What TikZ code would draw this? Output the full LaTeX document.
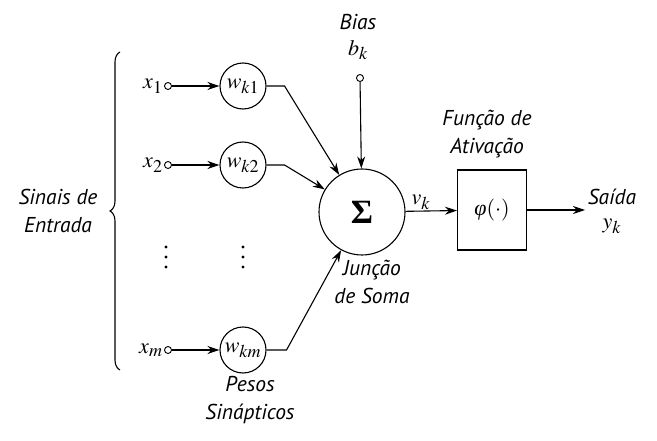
\documentclass[tikz,border=0pt]{standalone}
\usepackage{amsmath}
\usepackage{mathptmx}
\usepackage[no-math]{fontspec}
\setsansfont{PT Sans}
\newfontfamily\gregofonte{Liberation Serif}
\DeclareMathSizes{22}{22}{18}{14}
\usetikzlibrary{arrows.meta,decorations.pathreplacing}

\begin{document}
\begin{tikzpicture}[x=1pt,y=-1pt,line width=1.1pt,
		peso/.style={circle,draw,minimum size=46pt,inner sep=0pt,font=\fontsize{22}{24}\selectfont},
		entrada/.style={circle,draw,line width=0.9pt,minimum size=7pt,inner sep=0pt},
		rotulo/.style={font=\sffamily\itshape\fontsize{21.5}{28}\selectfont,align=center},
		simbolo/.style={font=\fontsize{22}{24}\selectfont,inner sep=1pt},
		seta/.style={-{Stealth[length=12pt,width=8pt]}}]
		\useasboundingbox (0,0) rectangle (657,441);
		
		% entradas e pesos
		\node[entrada] (e1) at (168,86) {};
		\node[entrada] (e2) at (168,165) {};
		\node[entrada] (em) at (168,350) {};
		\node[simbolo,anchor=east] (x1) at (e1.west) {$x_1$};
		\node[simbolo,anchor=east] (x2) at (e2.west) {$x_2$};
		\node[simbolo,anchor=east] (xm) at (em.west) {$x_m$};
		\node[peso] (w1) at (243,86) {$w_{k1}$};
		\node[peso] (w2) at (243,165) {$w_{k2}$};
		\node[peso] (wm) at (243,350) {$w_{km}$};
		\foreach \y in {247,257,267} {
			\fill (166,\y) circle (1.6pt);
			\fill (243,\y) circle (1.6pt);
		}
		
		% juncao, bias e ativacao
		\node[circle,draw,minimum size=86pt,inner sep=0pt,font=\gregofonte\bfseries\fontsize{34}{36}\selectfont] (soma) at (362,212) {Σ};
		\node[entrada] (eb) at (360,78) {};
		\node[simbolo] (bk) at (358,50) {$b_k$};
		\node[rotulo] (bias) at (358,22) {Bias};
		\node[draw,minimum width=69pt,minimum height=80pt,font=\fontsize{22}{24}\selectfont] (phi) at (492,210) {{\gregofonte\itshape φ}$(\cdot)$};
		\coordinate (saida) at (585,210);
		
		% textos
		\node[rotulo] (sinais) at (58,211) {Sinais de\\Entrada};
		\node[rotulo] (pesos) at (250,400) {Pesos\\Sinápticos};
		\node[rotulo] (juncao) at (372,282) {Junção\\de Soma};
		\node[rotulo] (funcao) at (487,134) {Função de\\Ativação};
		\node[rotulo] (said) at (612,197) {Saída};
		\node[simbolo] (yk) at (612,226) {$y_k$};
		
		\draw[seta] (e1) -- (w1);
		\draw[seta] (e2) -- (w2);
		\draw[seta] (em) -- (wm);
		\draw[seta] (w1.east) -- ++(18,0) -- (soma);
		\draw[seta] (w2.east) -- ++(18,0) -- (soma);
		\draw[seta] (wm.east) -- ++(20,0) -- (soma);
		\draw[seta] (eb) -- (soma);
		\draw[seta] (soma) -- node[simbolo,above,pos=0.3] (vk) {$v_k$} (phi);
		\draw[seta] (phi) -- (saida);
		
		\draw[decorate,decoration={brace,amplitude=10pt}] (120,370) -- (120,52);
	\end{tikzpicture}
\end{document}
